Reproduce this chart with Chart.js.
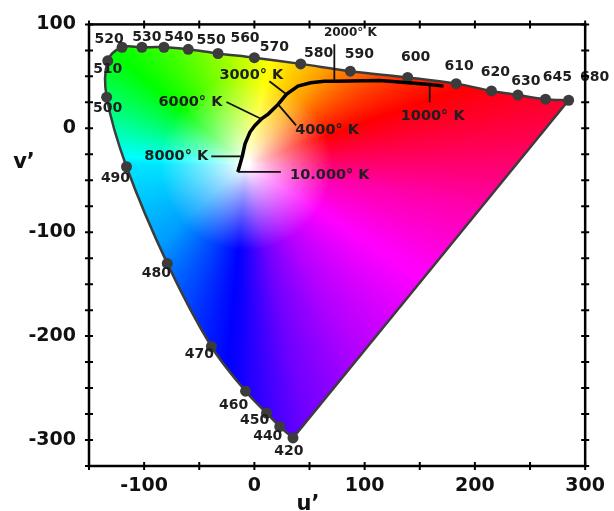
<!DOCTYPE html>
<html>
<head>
<meta charset="utf-8">
<script src="https://cdn.jsdelivr.net/npm/chart.js@4.4.1/dist/chart.umd.min.js"></script>
<style>
html, body { margin: 0; padding: 0; background: #fff; }
#wrap { width: 614px; height: 511px; }
</style>
</head>
<body>
<div id="wrap"><canvas id="myChart"></canvas></div>
<script>
// spectral locus (nm) in u', v'
var waveLabels = ['420', '440', '450', '460', '470', '480', '490', '500', '510', '520', '530', '540',
    '550', '560', '570', '580', '590', '600', '610', '620', '630', '645', '680'];
var locusU = [35, 23, 11, -8, -39, -79, -116, -134, -133, -120, -102, -82, -60, -33, 0, 42, 87, 139, 183, 215, 239, 264, 285];
var locusV = [-298, -287, -274, -253, -210, -130, -37, 30, 65, 78, 78, 78, 76, 72, 68, 62, 55, 49, 43, 36, 32, 28, 27];

// black body curve
var planckU = [-15, -11, -8.5, -4, 0.5, 6.4, 12.5, 21.5, 29, 39.5, 51, 63.5, 72.5, 114, 159, 171.5];
var planckV = [-42, -27, -15, -3.6, 2.7, 9, 13.7, 23, 32.7, 40.6, 43.8, 45.3, 45.3, 46, 42.2, 40.6];

var tempLabels = ['10.000° K', '8000° K', '6000° K', '4000° K', '3000° K', '2000° K', '1000° K'];
var tempIndex = [0, 1, 5, 7, 8, 12, 14];

var uTickLabels = [-100, 0, 100, 200, 300];
var vTickLabels = [-300, -200, -100, 0, 100];

// label placement (pixels, relative to the point)
var waveOffsets = [[-4, 13], [-12, 10], [-12, 7], [-12, 14], [-12, 8], [-11, 10], [-11, 12], [1, 11], [0, 9],
    [-13, -8], [5, -10], [15, -10], [23, -9], [27, -15], [20, -10], [18, -11], [9, -17], [8, -20], [3, -17],
    [4, -19], [8, -14], [12, -22], [26, -23]];
// [leader dx, leader dy, text dx, text dy, font size]
var tempOffsets = [[43, 0, 92, 3, 14.5], [-31, 0, -66, 0, 14.5], [-35, -17, -71, -17, 14.5], [18, 21, 49, 26, 14.5],
    [-17, -13, -35, -19, 14.5], [0, -37, 16, -48, 12], [0, 18, 3, 32, 14.5]];

var locusData = locusU.map(function (u, i) { return {x: u, y: locusV[i]}; });
var planckData = planckU.map(function (u, i) { return {x: u, y: planckV[i]}; });
var purpleData = [locusData[0], locusData[locusData.length - 1]];

// colour field
var whiteU = -8, whiteV = -34;
var hueStops = [[-180, 186], [-137, 203], [-110, 226], [-92, 243], [-77, 266], [-60, 282], [-30, 302], [-10, 320],
    [10, 348], [25, 367], [50, 397], [77, 420], [100, 442], [140, 480], [165, 520], [180, 546]];

function hueAt(a) {
    for (var i = 1; i < hueStops.length; i++) {
        if (a <= hueStops[i][0]) {
            var p = hueStops[i - 1], q = hueStops[i];
            return p[1] + (q[1] - p[1]) * (a - p[0]) / (q[0] - p[0]);
        }
    }
    return hueStops[hueStops.length - 1][1];
}

function hueRgb(h) {
    h = (((h % 360) + 360) % 360) / 60;
    var i = Math.floor(h), f = h - i, q = 1 - f;
    switch (i) {
        case 0: return [1, f, 0];
        case 1: return [q, 1, 0];
        case 2: return [0, 1, f];
        case 3: return [0, q, 1];
        case 4: return [f, 0, 1];
        default: return [1, 0, q];
    }
}

var patternCache = null;
function fillPattern(context) {
    var chart = context.chart;
    var area = chart.chartArea;
    if (!area) return 'rgba(0,0,0,0)';
    if (patternCache && patternCache.w === chart.width && patternCache.h === chart.height) return patternCache.p;
    var wx = chart.scales.x.getPixelForValue(whiteU);
    var wy = chart.scales.y.getPixelForValue(whiteV);
    var cv = document.createElement('canvas');
    cv.width = chart.width;
    cv.height = chart.height;
    var c2 = cv.getContext('2d');
    var img = c2.createImageData(cv.width, cv.height);
    for (var y = Math.floor(area.top); y < Math.ceil(area.bottom); y++) {
        for (var x = Math.floor(area.left); x < Math.ceil(area.right); x++) {
            var dx = x - wx, dy = wy - y;
            var d = Math.sqrt(dx * dx + dy * dy);
            var s = Math.min(1, Math.max(0, (d - 4) / 82));
            s = Math.pow(s, 0.8);
            var c = hueRgb(hueAt(Math.atan2(dy, dx) * 180 / Math.PI));
            var k = (y * cv.width + x) * 4;
            img.data[k] = 255 * (c[0] * s + 1 - s);
            img.data[k + 1] = 255 * (c[1] * s + 1 - s);
            img.data[k + 2] = 255 * (c[2] * s + 1 - s);
            img.data[k + 3] = 255;
        }
    }
    c2.putImageData(img, 0, 0);
    var p = chart.ctx.createPattern(cv, 'no-repeat');
    patternCache = {w: chart.width, h: chart.height, p: p};
    return p;
}

var decorPlugin = {
    id: 'decor',
    afterDatasetsDraw: function (chart) {
        var ctx = chart.ctx, a = chart.chartArea;
        var xs = chart.scales.x, ys = chart.scales.y;
        ctx.save();
        ctx.textAlign = 'center';
        ctx.textBaseline = 'middle';
        ctx.fillStyle = '#1e1e1e';

        // wavelength labels
        ctx.font = 'bold 14px "DejaVu Sans"';
        chart.getDatasetMeta(2).data.forEach(function (pt, i) {
            ctx.fillText(waveLabels[i], pt.x + waveOffsets[i][0], pt.y + waveOffsets[i][1]);
        });

        // colour temperature labels with leader lines
        var pts = chart.getDatasetMeta(0).data;
        ctx.strokeStyle = '#111';
        ctx.lineWidth = 1.8;
        tempLabels.forEach(function (t, i) {
            var pt = pts[tempIndex[i]], o = tempOffsets[i];
            ctx.beginPath();
            ctx.moveTo(pt.x, pt.y);
            ctx.lineTo(pt.x + o[0], pt.y + o[1]);
            ctx.stroke();
            ctx.font = 'bold ' + o[4] + 'px "DejaVu Sans"';
            ctx.fillText(t, pt.x + o[2], pt.y + o[3]);
        });

        // frame and ticks
        ctx.strokeStyle = '#000';
        ctx.lineWidth = 2.5;
        ctx.strokeRect(a.left, a.top, a.right - a.left, a.bottom - a.top);
        ctx.lineWidth = 2;
        ctx.beginPath();
        xs.ticks.forEach(function (t) {
            var px = xs.getPixelForValue(t.value);
            ctx.moveTo(px, a.bottom - 4); ctx.lineTo(px, a.bottom + 4);
            ctx.moveTo(px, a.top - 4); ctx.lineTo(px, a.top + 4);
        });
        ys.ticks.forEach(function (t) {
            var py = ys.getPixelForValue(t.value);
            ctx.moveTo(a.left - 4, py); ctx.lineTo(a.left + 4, py);
            ctx.moveTo(a.right - 4, py); ctx.lineTo(a.right + 4, py);
        });
        ctx.stroke();

        // axis titles
        ctx.fillStyle = '#111';
        ctx.textBaseline = 'alphabetic';
        ctx.font = 'bold 21px "DejaVu Sans"';
        ctx.fillText('v’', 24, 168);
        ctx.fillText('u’', 308, 510);
        ctx.restore();
    }
};

document.addEventListener('DOMContentLoaded', function () {
    var ctx = document.getElementById('myChart').getContext('2d');
    var myChart = new Chart(ctx, {
        type: 'line',
        data: {
            datasets: [{
                label: 'Planck',
                data: planckData,
                borderColor: '#000',
                borderWidth: 3.5,
                pointRadius: 0,
                tension: 0,
                fill: false
            }, {
                label: 'purple line',
                data: purpleData,
                borderColor: '#3c3c3c',
                borderWidth: 2.5,
                pointRadius: 0,
                fill: false
            }, {
                label: 'locus',
                data: locusData,
                borderColor: '#3c3c3c',
                borderWidth: 2.5,
                tension: 0.35,
                pointRadius: 5.5,
                pointBorderWidth: 0,
                pointBackgroundColor: '#3c3c3c',
                backgroundColor: fillPattern,
                fill: 'shape'
            }]
        },
        options: {
            responsive: true,
            maintainAspectRatio: false,
            animation: false,
            events: [],
            layout: { padding: { top: 19, right: 25, left: 0, bottom: 0 } },
            plugins: { legend: { display: false }, tooltip: { enabled: false } },
            scales: {
                x: {
                    type: 'linear',
                    min: -150,
                    max: 300,
                    grid: { display: false, drawTicks: false },
                    border: { display: false },
                    ticks: {
                        stepSize: 50,
                        padding: 9,
                        maxRotation: 0,
                        autoSkip: false,
                        color: '#111',
                        font: { family: 'DejaVu Sans', size: 19, weight: 'bold' },
                        callback: function (v) { return uTickLabels.indexOf(v) >= 0 ? String(v) : ''; }
                    },
                    afterFit: function (s) { s.height = 45; }
                },
                y: {
                    min: -325,
                    max: 100,
                    grid: { display: false, drawTicks: false },
                    border: { display: false },
                    ticks: {
                        stepSize: 25,
                        padding: 13,
                        autoSkip: false,
                        color: '#111',
                        font: { family: 'DejaVu Sans', size: 19, weight: 'bold' },
                        callback: function (v) { return vTickLabels.indexOf(v) >= 0 ? String(v) : ''; }
                    },
                    afterFit: function (s) { s.width = 89; }
                }
            }
        },
        plugins: [decorPlugin]
    });
});
</script>
</body>
</html>
